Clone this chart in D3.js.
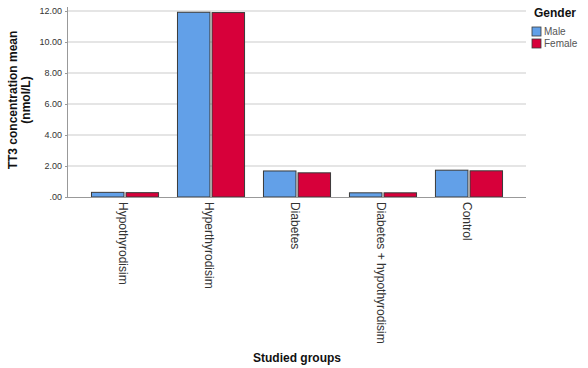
<!DOCTYPE html>
<html><head><meta charset="utf-8">
<script src="https://cdn.jsdelivr.net/npm/d3@7"></script>
<style>body{margin:0;background:#fff}svg{display:block}text{font-family:"Liberation Sans",Arial,sans-serif}</style>
</head><body><svg id="c" width="588" height="368"></svg>
<script>
const categories = ["Hypothyrodisim","Hyperthyrodisim","Diabetes","Diabetes + hypothyrodisim","Control"];
const genders = ["Male","Female"];
const maleValues = [0.30, 11.92, 1.68, 0.27, 1.73];
const femaleValues = [0.28, 11.90, 1.56, 0.27, 1.69];
const yTicks = [0,2,4,6,8,10,12];
const colors = ["#62a0e8","#d7003a"];

const svg = d3.select("#c");
const L = 68, R = 526, T = 7, B = 197;
const x0 = d3.scaleBand().domain(categories).range([L, R]).paddingInner(0.22).paddingOuter(0.273);
const x1 = d3.scaleBand().domain(genders).range([0, x0.bandwidth()]).paddingInner(0.06);
const y = d3.scaleLinear().domain([0, 12.26]).range([B, T]);
const color = d3.scaleOrdinal().domain(genders).range(colors);

// gridlines
svg.append("g").selectAll("line").data(yTicks.filter(d=>d>0)).join("line")
  .attr("x1", L).attr("x2", R).attr("y1", d=>y(d)).attr("y2", d=>y(d))
  .attr("stroke", "#dcdcdc").attr("stroke-width", 1.5);

// bars
const data = categories.map((c,i)=>({c, vals:[maleValues[i], femaleValues[i]]}));
svg.append("g").selectAll("g").data(data).join("g")
  .attr("transform", d=>`translate(${x0(d.c)},0)`)
  .selectAll("rect").data(d=>genders.map((g,j)=>({g, v:d.vals[j]}))).join("rect")
  .attr("x", d=>x1(d.g)).attr("width", x1.bandwidth())
  .attr("y", d=>y(d.v)).attr("height", d=>B - y(d.v))
  .attr("fill", d=>color(d.g)).attr("stroke", "#3a3a3a").attr("stroke-width", 1);

// y axis
const ya = svg.append("g").attr("transform", `translate(${L},0)`)
  .call(d3.axisLeft(y).tickValues(yTicks).tickSize(3).tickFormat(d=> d===0 ? ".00" : d3.format(".2f")(d)));
ya.select(".domain").attr("stroke","#999").attr("d", `M-0.5,${T}V${B}`);
ya.selectAll(".tick line").attr("stroke","#999");
ya.selectAll(".tick text").attr("fill","#333").attr("font-size", 9).attr("x", -6)
  .attr("font-family", '"Liberation Sans",Arial,sans-serif');

// x axis
const xa = svg.append("g").attr("transform", `translate(0,${B})`)
  .call(d3.axisBottom(x0).tickSize(0).tickPadding(0));
xa.select(".domain").attr("stroke","#999").attr("d", `M${L},0.5H${R}`);
xa.selectAll(".tick text").attr("fill","#333").attr("font-size", 12)
  .attr("font-family", '"Liberation Sans",Arial,sans-serif')
  .attr("transform", "translate(-2,5) rotate(90)")
  .attr("x", 0).attr("y", 0).attr("dy", "0.35em").attr("text-anchor","start");

// axis titles
svg.append("text").attr("x", 297).attr("y", 362).attr("text-anchor","middle")
  .attr("font-size", 12).attr("font-weight","bold").attr("fill","#111").text("Studied groups");
const yt = svg.append("text").attr("transform","translate(17,100) rotate(-90)")
  .attr("text-anchor","middle").attr("font-size", 12).attr("font-weight","bold").attr("fill","#111");
yt.append("tspan").attr("x",0).attr("dy",0).text("TT3 concentration mean");
yt.append("tspan").attr("x",0).attr("dy","1.1em").text("(nmol/L)");

// legend
svg.append("text").attr("x", 534).attr("y", 17).attr("font-size", 12).attr("font-weight","bold").attr("fill","#111").text("Gender");
const lg = svg.append("g").selectAll("g").data(genders).join("g")
  .attr("transform", (d,i)=>`translate(532,${27 + i*12})`);
lg.append("rect").attr("width", 9).attr("height", 9).attr("fill", d=>color(d)).attr("stroke","#3a3a3a").attr("stroke-width",0.8);
lg.append("text").attr("x", 12).attr("y", 8).attr("font-size", 10).attr("fill","#555").text(d=>d);
</script></body></html>
